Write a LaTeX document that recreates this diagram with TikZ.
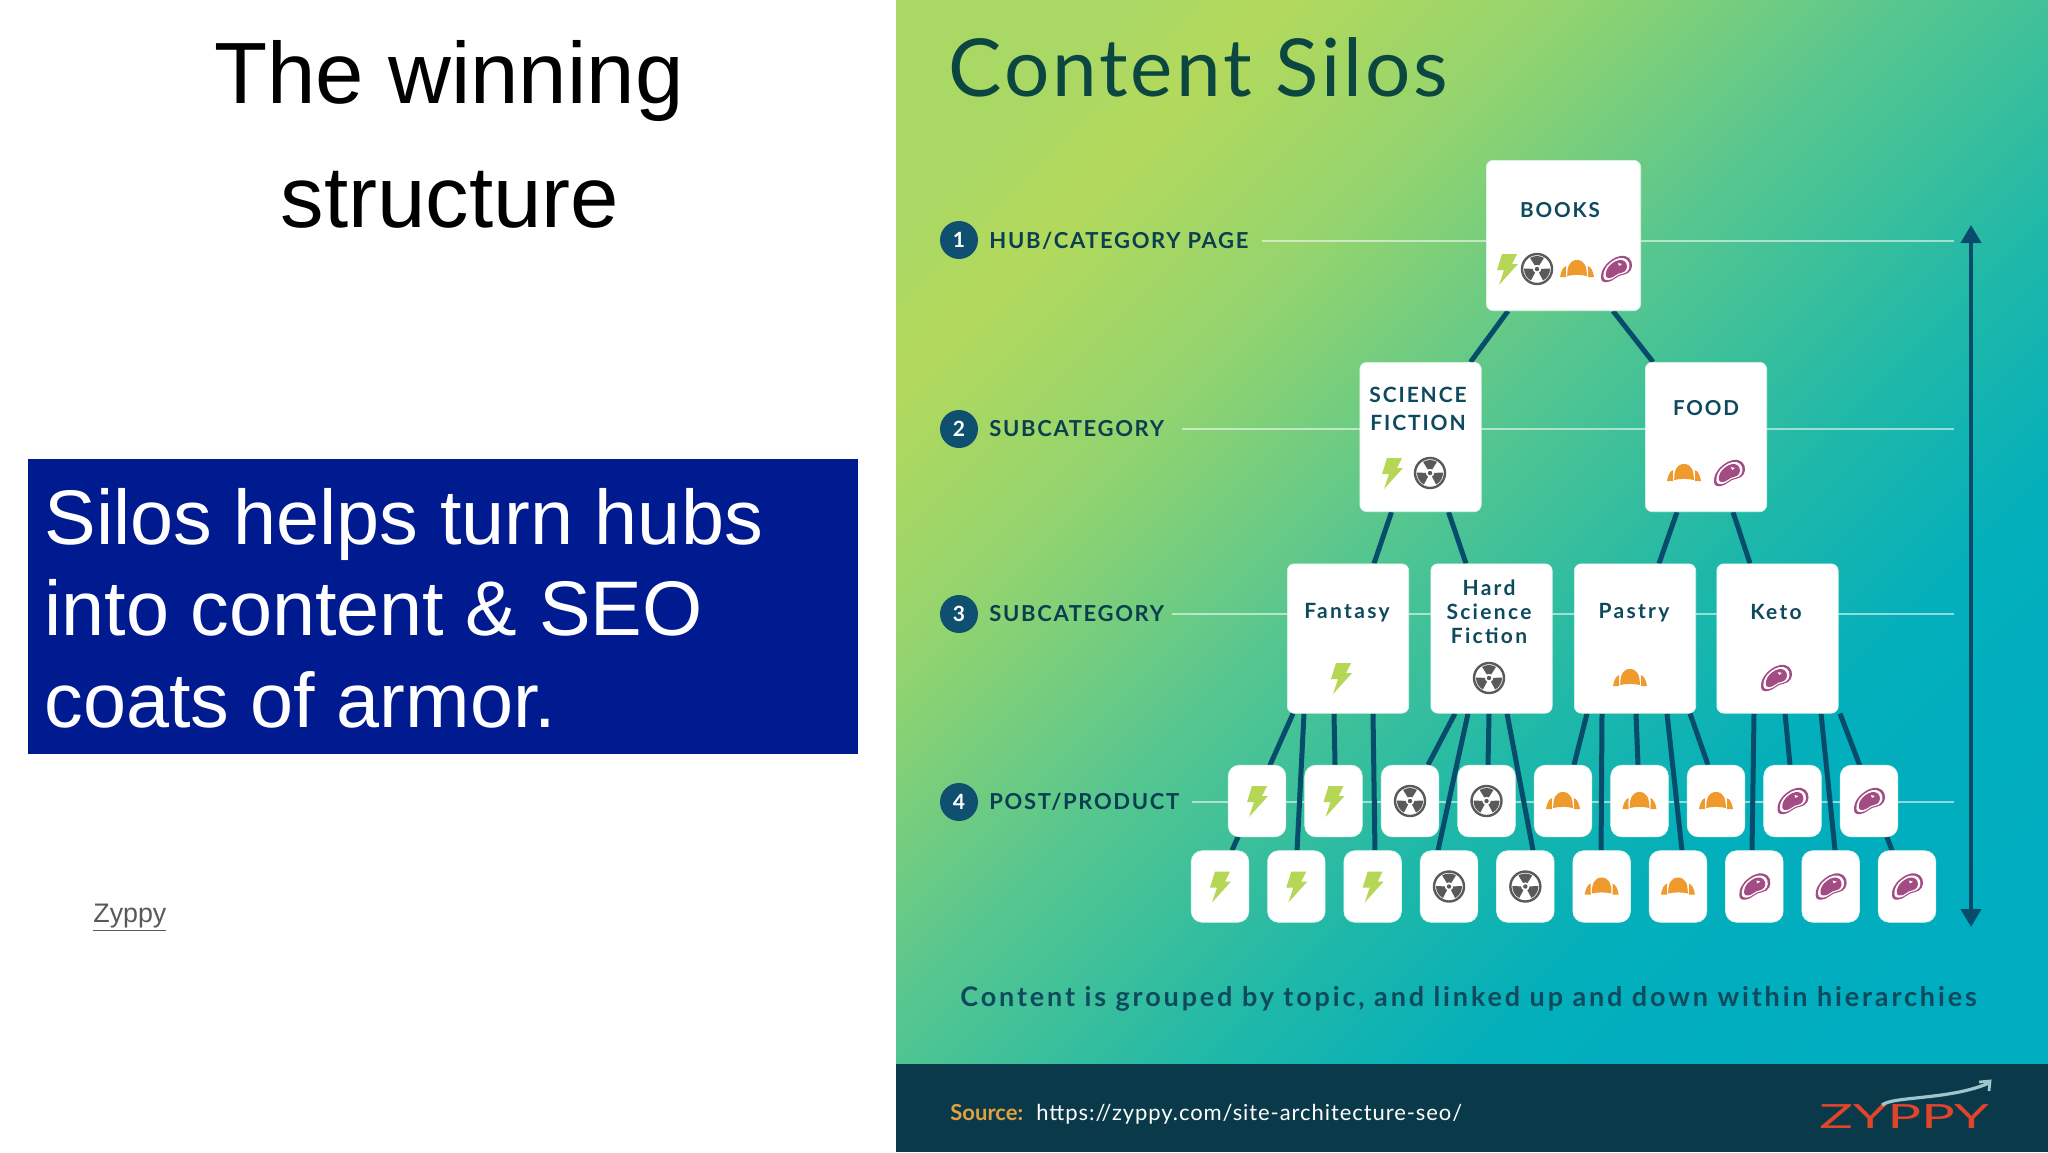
\documentclass[tikz,border=0pt]{standalone}
\usepackage{fontspec}
\setmainfont{Liberation Sans}
\newfontfamily\lat{Lato}
\usetikzlibrary{calc,backgrounds,arrows.meta}
\definecolor{gA}{HTML}{A9D865}\definecolor{gB}{HTML}{B3D95C}\definecolor{gC}{HTML}{94D46E}
\definecolor{gD}{HTML}{55C68F}\definecolor{gE}{HTML}{1FB8A8}\definecolor{gF}{HTML}{03AFBB}\definecolor{gG}{HTML}{00ADC0}
\definecolor{navy}{HTML}{001A8F}
\definecolor{foot}{HTML}{0A3A4A}
\definecolor{connC}{HTML}{084C6B}
\definecolor{txtC}{HTML}{0D4A5E}
\definecolor{titleC}{HTML}{0B4640}
\definecolor{circC}{HTML}{0F4F70}
\definecolor{boltC}{HTML}{B5D755}
\definecolor{radC}{HTML}{5A5A5A}
\definecolor{croiC}{HTML}{EE9A2C}
\definecolor{steakC}{HTML}{A34B83}
\definecolor{srcC}{HTML}{E0A23F}
\definecolor{logoC}{HTML}{E0442A}
\definecolor{logoA}{HTML}{9FC5CC}
\pgfdeclarehorizontalshading{silo}{100bp}{color(0bp)=(gA);color(21.5bp)=(gA);color(26.7bp)=(gB);color(35.8bp)=(gC);color(47.2bp)=(gD);color(58.5bp)=(gE);color(67bp)=(gF);color(78.5bp)=(gG);color(100bp)=(gG)}
\newcommand{\conn}[4]{\draw[connline] ($(#1.south)+(#2,0)$) -- ($(#3.north)+(#4,0)$);}
\tikzset{
  box/.style={fill=white,rounded corners=3.5pt,inner sep=0pt,draw=white!80!gD,line width=.3pt},
  bigbox/.style={box,minimum width=60.7pt,minimum height=74.7pt},
  smallbox/.style={box,rounded corners=5.5pt,minimum width=28.8pt,minimum height=35.8pt},
  connline/.style={draw=connC,line width=2.5pt},
  levelline/.style={draw=white,opacity=.55,line width=.8pt},
  boxlabel/.style={text=txtC,font=\lat\bfseries\fontsize{10.3}{12}\selectfont\addfontfeature{LetterSpace=9},align=center,inner sep=0pt},
  boxlabelb/.style={text=txtC,font=\lat\bfseries\fontsize{10.5}{12}\selectfont\addfontfeature{LetterSpace=11},align=center,inner sep=0pt},
  levellabel/.style={text=txtC!85!black,font=\lat\bfseries\fontsize{11}{12}\selectfont\addfontfeature{LetterSpace=7.5},anchor=base west,inner sep=0pt},
  numdot/.style={circle,fill=circC,text=white,minimum size=19pt,inner sep=0pt,font=\lat\bfseries\fontsize{10.5}{12}\selectfont},
  iconbolt/.pic={\fill[boltC] (-5,-15)--(10,-15)--(5,-5)--(11,-5)--(-8,16)--(-3,1)--(-10,1)--cycle;},
  iconrad/.pic={
    \draw[radC,line width=1.2pt] (0,0) circle[radius=15];
    \fill[radC] (0,0) circle[radius=2.2];
    \foreach \a in {-90,30,150}{
      \fill[radC] ({\a-32}:4.2) -- ({\a-32}:13) arc[start angle=\a-32,end angle=\a+32,radius=13] -- ({\a+32}:4.2) arc[start angle=\a+32,end angle=\a-32,radius=4.2] -- cycle;}
  },
  iconcroi/.pic={
    \fill[croiC] (-9.8,7) .. controls (-10,-3) and (-7,-9) .. (0,-9) .. controls (7,-9) and (10,-3) .. (9.8,7) .. controls (4,5.5) and (-4,5.5) .. (-9.8,7) -- cycle;
    \fill[croiC] (-17,8) .. controls (-16,2) and (-14,-2) .. (-10.8,-3) .. controls (-11.2,0) and (-11.2,4) .. (-10.8,8) -- cycle;
    \fill[croiC] (17,8) .. controls (16,2) and (14,-2) .. (10.8,-3) .. controls (11.2,0) and (11.2,4) .. (10.8,8) -- cycle;
  },
  iconsteak/.pic={
    \fill[steakC] plot[smooth cycle,tension=.7] coordinates {(-15,9)(-13,0)(-6,-8)(4,-13)(13,-11)(16,-3)(12,4)(3,7)(-5,12)(-12,13)};
    \fill[white,scale=.84] plot[smooth cycle,tension=.7] coordinates {(-15,9)(-13,0)(-6,-8)(4,-13)(13,-11)(16,-3)(12,4)(3,7)(-5,12)(-12,13)};
    \fill[steakC,scale=.68] plot[smooth cycle,tension=.7] coordinates {(-15,9)(-13,0)(-6,-8)(4,-13)(13,-11)(16,-3)(12,4)(3,7)(-5,12)(-12,13)};
    \fill[white] (2,-6)--(6,-5)--(3,-3)--cycle;
  },
}
\begin{document}
\begin{tikzpicture}[x=.5pt,y=-.5pt]
\useasboundingbox (0,0) rectangle (2048,1152);
% left panel
\node[anchor=base,inner sep=0pt,font=\fontsize{43.5}{50}\selectfont] (t1) at (449,103) {The winning};
\node[anchor=base,inner sep=0pt,font=\fontsize{43.5}{50}\selectfont] (t2) at (450,227) {structure};
\fill[navy] (28,459) rectangle (858,754);
\foreach \n/\yy/\s in {a/544/Silos helps turn hubs,b/635/into content \& SEO,c/727/coats of armor.}{
  \node[anchor=base west,inner sep=0pt,text=white,font=\fontsize{38.7}{45}\selectfont] (s\n) at (44,\yy) {\s};}
\node[anchor=base west,inner sep=0pt,text=black!65,font=\fontsize{13.4}{16}\selectfont] (zy) at (93,922) {\underline{Zyppy}};
% right panel title & footer text
\begin{scope}[on background layer]
\shade[shading=silo,shading angle=-45] (896,0) rectangle (2048,1066);
\fill[foot] (896,1064) rectangle (2048,1152);
\draw[levelline] (1262,241) -- (1954,241);
\draw[levelline] (1182,429) -- (1954,429);
\draw[levelline] (1172,614) -- (1954,614);
\draw[levelline] (1192,802) -- (1954,802);
\end{scope}
\node[anchor=base west,inner sep=0pt,text=titleC,font=\lat\fontsize{40}{48}\selectfont\addfontfeature{LetterSpace=3.7}] (title) at (948,96) {Content Silos};
\node[numdot] (n1) at (959,240) {1};
\node[numdot] (n2) at (959,429) {2};
\node[numdot] (n3) at (959,614) {3};
\node[numdot] (n4) at (959,802) {4};
\node[levellabel] (l1) at (989,248) {HUB/CATEGORY PAGE};
\node[levellabel] (l2) at (989,436) {SUBCATEGORY};
\node[levellabel] (l3) at (989,621) {SUBCATEGORY};
\node[levellabel] (l4) at (989,809) {POST/PRODUCT};
% boxes
\node[box,minimum width=77.2pt,minimum height=75.2pt] (books) at (1563.5,235.5) {};
\node[bigbox] (scifi) at (1420.5,437) {};
\node[bigbox] (food) at (1706,437) {};
\node[bigbox] (fant) at (1348,638.5) {};
\node[bigbox] (hard) at (1491.5,638.5) {};
\node[bigbox] (past) at (1635,638.5) {};
\node[bigbox] (keto) at (1777.5,638.5) {};
\foreach \i in {1,...,9}{\node[smallbox] (top\i) at ({1257+76.5*(\i-1)},801) {};}
\foreach \i in {1,...,10}{\node[smallbox] (bot\i) at ({1220+76.33*(\i-1)},886.5) {};}
\begin{scope}[on background layer]
\conn{books}{-55.5}{scifi}{50}
\conn{books}{49.5}{food}{-53}
\conn{scifi}{-29}{fant}{26}
\conn{scifi}{28}{hard}{-25.5}
\conn{food}{-29}{past}{24}
\conn{food}{27}{keto}{-27.5}
\conn{fant}{-55}{bot1}{12}
\conn{fant}{-44}{bot2}{0.7}
\conn{fant}{-14}{top2}{1.5}
\conn{fant}{25}{bot3}{2.3}
\conn{hard}{-36.5}{top3}{18}
\conn{hard}{-23.5}{bot4}{-11}
\conn{hard}{-2.5}{top4}{1.5}
\conn{hard}{15.5}{bot5}{7.7}
\conn{past}{-48}{top5}{11}
\conn{past}{-33}{bot6}{-0.6}
\conn{past}{1}{top6}{-1.5}
\conn{past}{32}{bot7}{4}
\conn{past}{55}{top7}{-8}
\conn{keto}{-23.5}{bot8}{-2.3}
\conn{keto}{7.5}{top8}{-2.5}
\conn{keto}{43.5}{bot9}{4.4}
\conn{keto}{62.5}{bot10}{-15}
\end{scope}
% box labels
\node[boxlabel] (lb) at (1560,210) {BOOKS};
\node[boxlabel,font=\lat\bfseries\fontsize{10.5}{14}\selectfont\addfontfeature{LetterSpace=9}] (ls) at (1418,408.5) {SCIENCE\\FICTION};
\node[boxlabel] (lf) at (1706,408) {FOOD};
\node[boxlabelb] (lfa) at (1347,613) {Fantasy};
\node[boxlabelb] (lh) at (1489,612) {Hard\\Science\\Fiction};
\node[boxlabelb] (lp) at (1634,613) {Pastry};
\node[boxlabelb] (lk) at (1776,612) {Keto};
% icons
\pic at (1507,269) {iconbolt};
\pic at (1537,269) {iconrad};
\pic at (1577,269) {iconcroi};
\pic at (1616,269) {iconsteak};
\pic at (1392,473) {iconbolt};
\pic at (1430,473) {iconrad};
\pic at (1684,473) {iconcroi};
\pic at (1729,473) {iconsteak};
\pic at (1341,678) {iconbolt};
\pic at (1489,678) {iconrad};
\pic at (1630,678) {iconcroi};
\pic at (1776,678) {iconsteak};
\foreach \i in {1,2}{\pic at (top\i) {iconbolt};}
\foreach \i in {3,4}{\pic at (top\i) {iconrad};}
\foreach \i in {5,6,7}{\pic at (top\i) {iconcroi};}
\foreach \i in {8,9}{\pic at (top\i) {iconsteak};}
\foreach \i in {1,2,3}{\pic at (bot\i) {iconbolt};}
\foreach \i in {4,5}{\pic at (bot\i) {iconrad};}
\foreach \i in {6,7}{\pic at (bot\i) {iconcroi};}
\foreach \i in {8,9,10}{\pic at (bot\i) {iconsteak};}
% arrow
\coordinate (arrT) at (1971,225);
\coordinate (arrB) at (1971,927);
\draw[draw=connC,fill=connC,line width=2pt,{Triangle[width=10pt,length=9pt]}-{Triangle[width=10pt,length=9pt]}] (arrT) -- (arrB);
% caption & footer
\node[anchor=base west,inner sep=0pt,text=txtC,font=\lat\bfseries\fontsize{13.5}{15}\selectfont\addfontfeature{LetterSpace=10.6}] (cap) at (960,1006) {Content is grouped by topic, and linked up and down within hierarchies};
\node[anchor=base west,inner sep=0pt,text=srcC,font=\lat\bfseries\fontsize{11}{13}\selectfont] (src) at (950,1120) {Source:};
\node[anchor=base west,inner sep=0pt,text=white,font=\lat\fontsize{11}{13}\selectfont\addfontfeature{LetterSpace=4.2}] (url) at (1036,1120) {https://zyppy.com/site-architecture-seo/};
% logo
\node[anchor=center,inner sep=0pt,text=logoC,xscale=1.67,font=\lat\fontsize{16.7}{20}\selectfont] (logo) at (1904,1117) {ZYPPY};
\draw[logoA,line width=1.6pt] (1882,1105) .. controls (1893,1096) and (1950,1100) .. (1989,1083);
\draw[logoA,line width=1.4pt] (1979,1082) -- (1990,1081) -- (1989,1091);
\end{tikzpicture}
\end{document}
